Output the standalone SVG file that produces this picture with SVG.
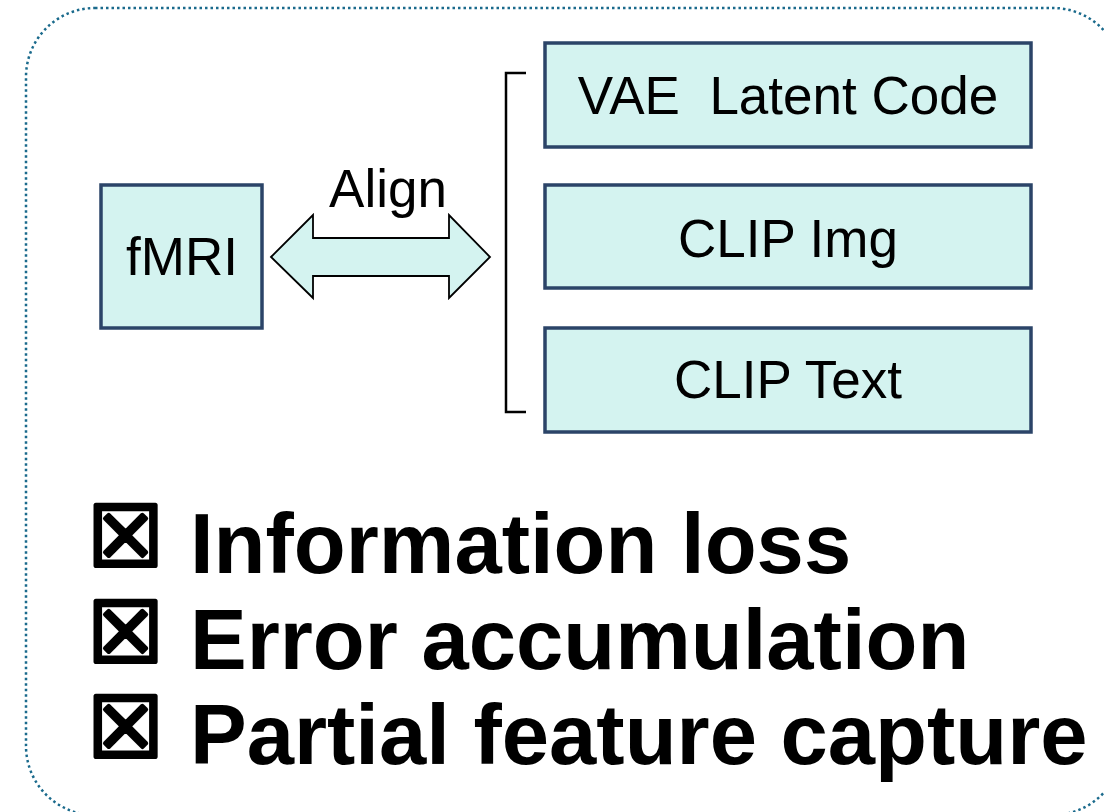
<svg xmlns="http://www.w3.org/2000/svg" width="1104" height="812" viewBox="0 0 1104 812">
<style>
.node{fill:#d4f3f0;stroke:#2b4468;stroke-width:3.5}
.lbl{font-family:"Liberation Sans",Arial,sans-serif;font-size:53px;fill:#000;text-anchor:middle}
.big{font-family:"Liberation Sans",Arial,sans-serif;font-size:85px;font-weight:bold;fill:#000}
.chk{font-family:"DejaVu Sans",sans-serif;font-size:84px;font-weight:bold;fill:#000;stroke:#000;stroke-width:4;stroke-linejoin:round}
</style>
<rect x="26" y="8" width="1096" height="807" rx="69" ry="69" fill="none" stroke="#1a6a8c" stroke-width="2.5" stroke-dasharray="2.5 3"/>
<g id="fmri">
<rect class="node" x="101" y="185" width="161" height="143"/>
<text class="lbl" x="182" y="275">fMRI</text>
</g>
<g id="vae">
<rect class="node" x="545" y="43" width="486" height="104"/>
<text class="lbl" x="788" y="114" xml:space="preserve">VAE  Latent Code</text>
</g>
<g id="clipimg">
<rect class="node" x="545" y="185" width="486" height="103"/>
<text class="lbl" x="788" y="257">CLIP Img</text>
</g>
<g id="cliptext">
<rect class="node" x="545" y="328" width="486" height="104"/>
<text class="lbl" x="788" y="398">CLIP Text</text>
</g>
<g id="connectors">
<path d="M271,257 L313,215 L313,238 L449,238 L449,215 L490,257 L449,298 L449,276 L313,276 L313,298 Z" fill="#d4f3f0" stroke="#000" stroke-width="1.8" stroke-linejoin="miter"/>
<text class="lbl" x="388" y="207">Align</text>
<path d="M526,73 L506,73 L506,412 L526,412" fill="none" stroke="#000" stroke-width="2.5"/>
</g>
<g id="issues">
<text class="chk" x="88" y="566">☒</text>
<text class="big" x="190" y="573">Information loss</text>
<text class="chk" x="88" y="662">☒</text>
<text class="big" x="190" y="669">Error accumulation</text>
<text class="chk" x="88" y="757">☒</text>
<text class="big" x="190" y="764">Partial feature capture</text>
</g>
</svg>
